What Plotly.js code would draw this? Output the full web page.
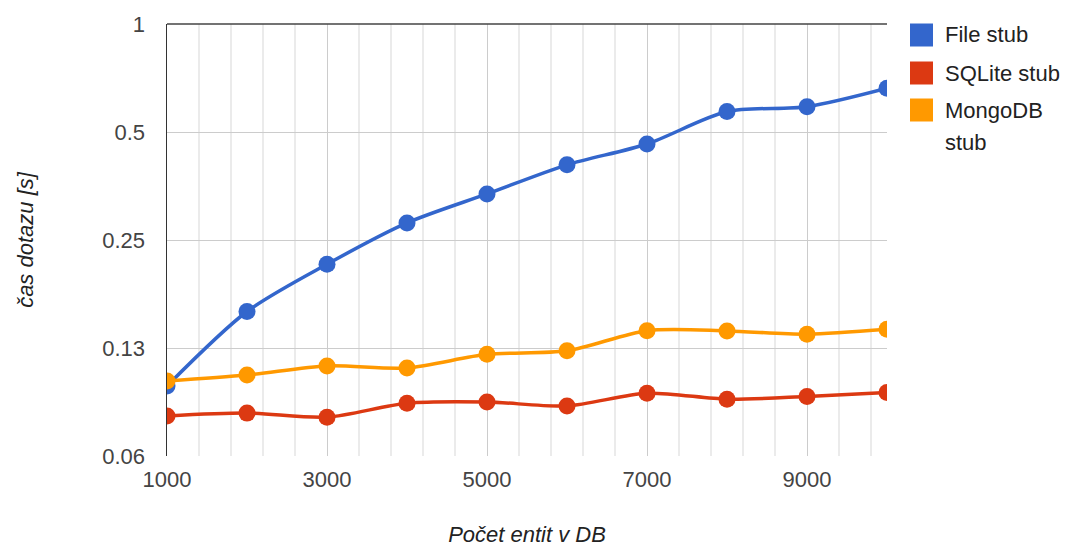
<!DOCTYPE html>
<html>
<head>
<meta charset="utf-8">
<script src="https://cdn.plot.ly/plotly-3.0.1.min.js"></script>
<style>
  html, body { margin: 0; padding: 0; background: #fff; }
  #chart { width: 1069px; height: 547px; }
</style>
</head>
<body>
<div id="chart"></div>
<script>
// ---- data ----
const entities = [1000, 2000, 3000, 4000, 5000, 6000, 7000, 8000, 9000, 10000];
const fileStub   = [0.098, 0.158, 0.214, 0.279, 0.336, 0.405, 0.463, 0.570, 0.588, 0.662];
const sqliteStub = [0.0808, 0.0823, 0.0802, 0.0877, 0.0884, 0.0862, 0.0935, 0.0900, 0.0916, 0.0939];
const mongoStub  = [0.1012, 0.1051, 0.1114, 0.1100, 0.1200, 0.1228, 0.1397, 0.1395, 0.1366, 0.1409];
const seriesNames = ['File stub', 'SQLite stub', 'MongoDB stub'];
const yTickVals = [0.0625, 0.125, 0.25, 0.5, 1];
const yTickText = ['0.06', '0.13', '0.25', '0.5', '1'];
const xTitle = 'Počet entit v DB';
const yTitle = 'čas dotazu [s]';

// ---- style ----
const colors = ['#3366cc', '#dc3912', '#ff9900'];
const FONT = '"Liberation Sans", Arial, sans-serif';
const W = 1069, H = 547;
const M = { l: 167, r: 182, t: 24, b: 91 };
const pw = W - M.l - M.r, ph = H - M.t - M.b;
const px2x = p => (p - M.l) / pw;
const px2y = p => (H - M.b - p) / ph;

function lineTrace(name, ys, color) {
  return {
    type: 'scatter', mode: 'lines+markers', name: name,
    x: entities, y: ys,
    line: { color: color, width: 3.5, shape: 'spline', smoothing: 0.8 },
    marker: { color: color, size: 17 },
    showlegend: false, hoverinfo: 'x+y+name'
  };
}

const traces = [
  lineTrace(seriesNames[0], fileStub, colors[0]),
  lineTrace(seriesNames[1], sqliteStub, colors[1]),
  lineTrace(seriesNames[2], mongoStub, colors[2])
];

// legend built from series names / colors
const legendRows = [35, 73, 110];
const shapes = [
  { type: 'line', xref: 'paper', yref: 'paper', x0: 0, x1: 1, y0: 1, y1: 1,
    line: { color: '#444', width: 1.5 } }
];
const annotations = [];
seriesNames.forEach((n, i) => {
  const cy = legendRows[i];
  shapes.push({ type: 'rect', xref: 'paper', yref: 'paper',
    x0: px2x(910), x1: px2x(933), y0: px2y(cy - 11.5), y1: px2y(cy + 11.5),
    fillcolor: colors[i], line: { width: 0 } });
  const parts = n === 'MongoDB stub' ? ['MongoDB', 'stub'] : [n];
  parts.forEach((t, k) => {
    annotations.push({ xref: 'paper', yref: 'paper', x: px2x(943), y: px2y(cy + k * 32),
      xanchor: 'left', yanchor: 'middle', showarrow: false, text: t,
      font: { family: FONT, size: 22, color: '#222' } });
  });
});

const layout = {
  width: W, height: H,
  margin: M,
  paper_bgcolor: '#fff', plot_bgcolor: '#fff',
  font: { family: FONT, size: 22, color: '#444' },
  showlegend: false,
  xaxis: {
    range: [1000, 10000],
    tickmode: 'linear', tick0: 1000, dtick: 2000, tickformat: 'd',
    showgrid: true, gridcolor: '#cccccc', gridwidth: 1,
    minor: { tick0: 1000, dtick: 400, showgrid: true, gridcolor: '#ebebeb', gridwidth: 1.5 },
    zeroline: false, showline: false, ticks: '',
    tickfont: { family: FONT, size: 22, color: '#444' },
    ticklabelstandoff: 8,
    title: { text: xTitle, standoff: 38, font: { family: FONT, size: 22, color: '#222', style: 'italic' } }
  },
  yaxis: {
    type: 'log',
    range: [Math.log10(0.0625), 0],
    tickmode: 'array', tickvals: yTickVals, ticktext: yTickText,
    showgrid: true, gridcolor: '#cccccc', gridwidth: 1,
    zeroline: false, showline: true, linecolor: '#333', linewidth: 1.5, ticks: '',
    tickfont: { family: FONT, size: 22, color: '#444' },
    ticklabelstandoff: 16,
    title: { text: yTitle, standoff: 62, font: { family: FONT, size: 22, color: '#222', style: 'italic' } }
  },
  shapes: shapes,
  annotations: annotations
};

Plotly.newPlot('chart', traces, layout, { displayModeBar: false, staticPlot: true });
</script>
</body>
</html>
